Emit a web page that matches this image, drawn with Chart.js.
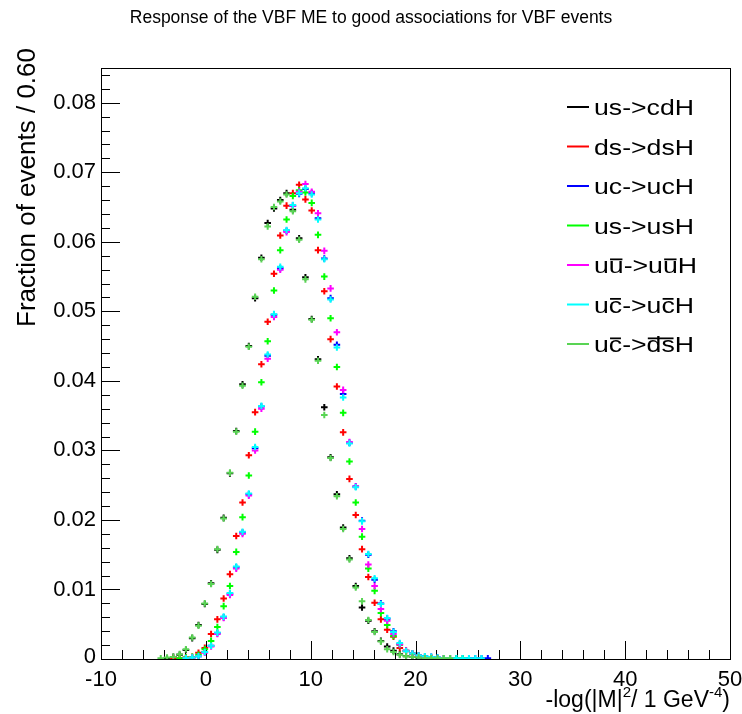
<!DOCTYPE html>
<html>
<head>
<meta charset="utf-8">
<script src="https://cdn.jsdelivr.net/npm/chart.js@4.4.1/dist/chart.umd.min.js"></script>
<style>
  html, body { margin: 0; padding: 0; background: #fff; }
  #wrap { width: 742px; height: 714px; }
</style>
</head>
<body>
<div id="wrap"><canvas id="myChart" width="742" height="714"></canvas></div>
<script>
// bin centres (bin width 0.60), only the bins that carry entries
const binCenters = [-4.9, -4.3, -3.7, -3.1, -2.5, -1.9, -1.3, -0.7, -0.1, 0.5,
  1.1, 1.7, 2.3, 2.9, 3.5, 4.1, 4.7, 5.3, 5.9, 6.5,
  7.1, 7.7, 8.3, 8.9, 9.5, 10.1, 10.7, 11.3, 11.9, 12.5,
  13.1, 13.7, 14.3, 14.9, 15.5, 16.1, 16.7, 17.3, 17.9, 18.5,
  19.1, 19.7, 20.3, 20.9, 21.5, 22.1, 22.7, 23.3, 23.9, 24.5,
  25.1, 25.7, 26.3, 26.9];

const usCdH = [null, null, 0.0001, 0.0003, 0.0006, 0.0013, 0.0030, 0.0049, 0.0079, 0.0109,
  0.0157, 0.0203, 0.0267, 0.0328, 0.0395, 0.0450, 0.0519, 0.0577, 0.0627, 0.0648,
  0.0660, 0.0670, 0.0646, 0.0605, 0.0549, 0.0489, 0.0431, 0.0362, 0.0290, 0.0237,
  0.0189, 0.0145, 0.0105, 0.0074, 0.0055, 0.0040, 0.0026, 0.0018, 0.0012, 0.0007,
  0.0004, 0.0003, 0.0002, 0.0001, 0.0001, null, null, null, null, null,
  null, null, null, null];

const dsDsH = [null, null, null, 0.0001, 0.0001, 0.0002, 0.0003, 0.0009, 0.0016, 0.0036,
  0.0057, 0.0087, 0.0122, 0.0177, 0.0225, 0.0293, 0.0355, 0.0424, 0.0485, 0.0554,
  0.0609, 0.0652, 0.0670, 0.0682, 0.0661, 0.0645, 0.0588, 0.0529, 0.0460, 0.0392,
  0.0326, 0.0259, 0.0207, 0.0158, 0.0118, 0.0081, 0.0057, 0.0042, 0.0032, 0.0016,
  0.0011, 0.0007, 0.0004, 0.0003, 0.0002, 0.0001, 0.0001, null, null, null,
  null, null, null, null];

const ucUcH = [null, null, null, null, null, 0.0001, 0.0002, 0.0004, 0.0010, 0.0019,
  0.0037, 0.0060, 0.0094, 0.0132, 0.0182, 0.0237, 0.0303, 0.0363, 0.0436, 0.0495,
  0.0562, 0.0616, 0.0652, 0.0669, 0.0676, 0.0670, 0.0634, 0.0576, 0.0519, 0.0452,
  0.0381, 0.0311, 0.0248, 0.0199, 0.0150, 0.0114, 0.0080, 0.0058, 0.0040, 0.0022,
  0.0012, 0.0008, 0.0005, 0.0004, 0.0003, 0.0002, 0.0001, 0.0001, 0.0001, 0.0001,
  0.0001, 0.0001, 0.0001, 0.0001];

const usUsH = [null, null, null, null, 0.0001, 0.0002, 0.0003, 0.0006, 0.0014, 0.0026,
  0.0046, 0.0076, 0.0105, 0.0154, 0.0204, 0.0264, 0.0327, 0.0398, 0.0457, 0.0530,
  0.0588, 0.0632, 0.0666, 0.0674, 0.0671, 0.0656, 0.0610, 0.0550, 0.0490, 0.0420,
  0.0354, 0.0284, 0.0225, 0.0176, 0.0130, 0.0098, 0.0066, 0.0049, 0.0033, 0.0020,
  0.0012, 0.0008, 0.0005, 0.0003, 0.0002, 0.0001, 0.0001, 0.0001, 0.0001, 0.0001,
  null, null, null, null];

const uubarH = [null, null, null, null, null, 0.0001, 0.0002, 0.0004, 0.0009, 0.0018,
  0.0036, 0.0059, 0.0092, 0.0130, 0.0180, 0.0235, 0.0300, 0.0360, 0.0432, 0.0492,
  0.0560, 0.0614, 0.0652, 0.0672, 0.0683, 0.0672, 0.0641, 0.0587, 0.0533, 0.0470,
  0.0387, 0.0312, 0.0248, 0.0187, 0.0136, 0.0105, 0.0072, 0.0055, 0.0036, 0.0021,
  0.0012, 0.0008, 0.0005, 0.0003, 0.0002, 0.0001, 0.0001, 0.0001, null, null,
  null, null, null, null];

const ucbarH = [null, null, null, null, null, 0.0001, 0.0002, 0.0004, 0.0010, 0.0019,
  0.0038, 0.0061, 0.0095, 0.0133, 0.0183, 0.0238, 0.0305, 0.0364, 0.0438, 0.0496,
  0.0564, 0.0617, 0.0653, 0.0670, 0.0677, 0.0668, 0.0632, 0.0575, 0.0517, 0.0448,
  0.0376, 0.0310, 0.0247, 0.0198, 0.0151, 0.0116, 0.0079, 0.0059, 0.0039, 0.0023,
  0.0011, 0.0008, 0.0005, 0.0004, 0.0003, 0.0002, 0.0001, 0.0001, 0.0001, 0.0001,
  0.0001, 0.0001, 0.0001, null];

const ucbarDsbarH = [null, 0.0001, 0.0002, 0.0003, 0.0007, 0.0014, 0.0031, 0.0048, 0.0080, 0.0108,
  0.0158, 0.0202, 0.0268, 0.0327, 0.0393, 0.0449, 0.0521, 0.0575, 0.0622, 0.0650,
  0.0658, 0.0668, 0.0644, 0.0603, 0.0546, 0.0488, 0.0429, 0.0351, 0.0289, 0.0234,
  0.0187, 0.0143, 0.0103, 0.0083, 0.0056, 0.0039, 0.0025, 0.0014, 0.0010, 0.0006,
  0.0004, 0.0003, 0.0002, 0.0001, 0.0001, 0.0001, 0.0001, 0.0001, null, null,
  null, null, null, null];

// legend labels: text in {} gets a bar over it
const seriesNames = ['us->cdH', 'ds->dsH', 'uc->ucH', 'us->usH', 'u{u}->u{u}H', 'u{c}->u{c}H', 'u{c}->{ds}H'];
const seriesColors = ['#000000', '#ff0000', '#0000ff', '#00ff00', '#ff00ff', '#00ffff', '#59d454'];
const seriesValues = [usCdH, dsDsH, ucUcH, usUsH, uubarH, ucbarH, ucbarDsbarH];

const xTickLabels = [-10, 0, 10, 20, 30, 40, 50];
const yTickLabels = ['0', '0.01', '0.02', '0.03', '0.04', '0.05', '0.06', '0.07', '0.08'];

const FONT = '"Liberation Sans", Arial, Helvetica, sans-serif';

function toPoints(values) {
  const pts = [];
  values.forEach((v, i) => {
    if (v !== null) pts.push({ x: binCenters[i], y: v });
  });
  return pts;
}

// draws a string where {..} parts get an overline
function drawBarred(ctx, str, x, y, size) {
  const parts = str.split(/(\{[^}]*\})/).filter((p) => p.length);
  let cx = x;
  parts.forEach((p) => {
    const bar = p[0] === '{';
    const t = bar ? p.slice(1, -1) : p;
    const w = ctx.measureText(t).width;
    ctx.fillText(t, cx, y);
    if (bar) {
      ctx.fillRect(cx + 1, y - size * 0.66, w - 2, Math.max(1.5, size * 0.08));
    }
    cx += w;
  });
}

const rootFrame = {
  id: 'rootFrame',
  beforeDatasetsDraw(chart) {
    const { ctx, chartArea: a, scales } = chart;
    const xs = scales.x;
    const ys = scales.y;
    ctx.save();
    ctx.strokeStyle = '#000';
    ctx.lineWidth = 1;
    ctx.strokeRect(a.left + 0.5, a.top + 0.5, a.right - a.left, a.bottom - a.top);

    // x ticks, inside the frame
    ctx.beginPath();
    for (let v = -10; v <= 50; v += 2) {
      const px = Math.round(xs.getPixelForValue(v)) + 0.5;
      const len = v % 10 === 0 ? 18 : 9;
      ctx.moveTo(px, a.bottom);
      ctx.lineTo(px, a.bottom - len);
    }
    // y ticks
    for (let k = 0; k <= 42; k++) {
      const v = k * 0.002;
      const py = Math.round(ys.getPixelForValue(v)) + 0.5;
      const len = k % 5 === 0 ? 19 : 9;
      ctx.moveTo(a.left, py);
      ctx.lineTo(a.left + len, py);
    }
    ctx.stroke();

    ctx.fillStyle = '#000';
    ctx.font = '22px ' + FONT;
    ctx.textAlign = 'center';
    ctx.textBaseline = 'top';
    xTickLabels.forEach((v) => {
      ctx.fillText(String(v), xs.getPixelForValue(v), a.bottom + 10);
    });
    ctx.textAlign = 'right';
    ctx.textBaseline = 'middle';
    yTickLabels.forEach((t) => {
      const v = parseFloat(t);
      const py = v === 0 ? ys.getPixelForValue(v) - 2 : ys.getPixelForValue(v);
      ctx.fillText(t, a.left - 5, py);
    });
    ctx.restore();
  },
  afterDraw(chart) {
    const { ctx, chartArea: a } = chart;
    ctx.save();
    ctx.fillStyle = '#000';

    // title
    ctx.font = '17.5px ' + FONT;
    ctx.textAlign = 'center';
    ctx.textBaseline = 'middle';
    ctx.fillText('Response of the VBF ME to good associations for VBF events', 371, 18);

    // y axis title
    ctx.save();
    ctx.translate(35, 48);
    ctx.rotate(-Math.PI / 2);
    ctx.font = '26px ' + FONT;
    ctx.textAlign = 'right';
    ctx.textBaseline = 'alphabetic';
    ctx.fillText('Fraction of events / 0.60', 0, 0);
    ctx.restore();

    // x axis title with superscripts
    const big = '23px ' + FONT;
    const small = '15px ' + FONT;
    const segs = [['-log(|M|', big, 0], ['2', small, -10], ['/ 1 GeV', big, 0], ['-4', small, -10], [')', big, 0]];
    let total = 0;
    segs.forEach((s) => { ctx.font = s[1]; total += ctx.measureText(s[0]).width; });
    let cx = a.right - total;
    ctx.textAlign = 'left';
    ctx.textBaseline = 'alphabetic';
    segs.forEach((s) => {
      ctx.font = s[1];
      ctx.fillText(s[0], cx, 707 + s[2]);
      cx += ctx.measureText(s[0]).width;
    });

    // legend
    const size = 22;
    ctx.font = size + 'px ' + FONT;
    const sx = 100 / ctx.measureText('us->cdH').width;
    seriesNames.forEach((name, i) => {
      const ly = 107 + i * 39.5;
      ctx.strokeStyle = seriesColors[i];
      ctx.lineWidth = 2;
      ctx.beginPath();
      ctx.moveTo(567, ly);
      ctx.lineTo(589, ly);
      ctx.stroke();
      ctx.save();
      ctx.translate(594, ly + 8);
      ctx.scale(sx, 1);
      ctx.fillStyle = '#000';
      drawBarred(ctx, name, 0, 0, size);
      ctx.restore();
    });
    ctx.restore();
  }
};

function initChart(canvas) {
  const datasets = seriesValues.map((vals, i) => ({
    label: seriesNames[i],
    data: toPoints(vals),
    showLine: false,
    pointStyle: 'cross',
    pointRadius: 3.3,
    pointBorderWidth: 2,
    borderColor: seriesColors[i],
    backgroundColor: seriesColors[i],
    order: seriesNames.length - i
  }));

  const config = {
    type: 'scatter',
    data: { datasets: datasets },
    options: {
      responsive: false,
      animation: false,
      devicePixelRatio: 1,
      layout: { padding: { left: 101, right: 12, top: 68, bottom: 55 } },
      plugins: {
        legend: { display: false },
        tooltip: { enabled: false }
      },
      events: [],
      scales: {
        x: { type: 'linear', min: -10, max: 50, display: false },
        y: { type: 'linear', min: 0, max: 0.085, display: false }
      }
    },
    plugins: [rootFrame]
  };

  return new Chart(canvas, config);
}

document.addEventListener('DOMContentLoaded', () => {
  initChart(document.getElementById('myChart'));
});
</script>
</body>
</html>
